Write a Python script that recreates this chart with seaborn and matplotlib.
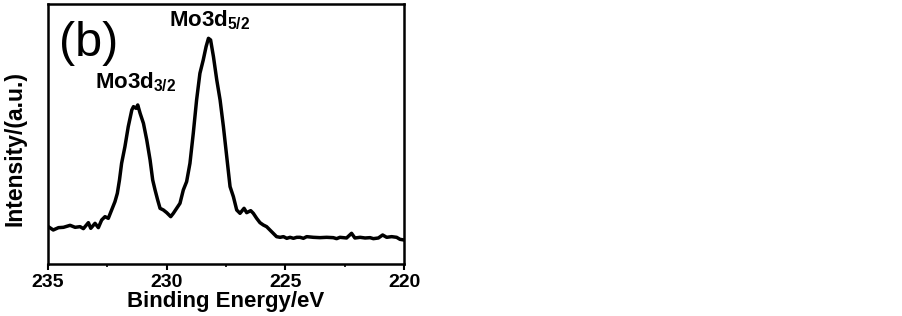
"""XPS Mo3d spectrum, panel (b)"""
import matplotlib
matplotlib.use('Agg')
import matplotlib.pyplot as plt
from matplotlib.ticker import MultipleLocator
import seaborn as sns
import pandas as pd

#binding energy (eV) and intensity (arb. units)
energy = [234.99, 234.78, 234.56, 234.35, 234.07, 233.86, 233.65, 233.51, 233.30, 233.20,
          233.02, 232.88, 232.74, 232.60, 232.46, 232.32, 232.18, 232.08, 231.99, 231.90,
          231.76, 231.62, 231.47, 231.40, 231.29, 231.22, 231.12, 230.98, 230.84, 230.70,
          230.59, 230.49, 230.38, 230.28, 230.14, 230.00, 229.83, 229.72, 229.58, 229.44,
          229.30, 229.16, 229.02, 228.88, 228.74, 228.60, 228.46, 228.34, 228.24, 228.15,
          228.03, 227.89, 227.75, 227.61, 227.47, 227.33, 227.19, 227.05, 226.91, 226.74,
          226.63, 226.46, 226.35, 226.21, 226.07, 225.93, 225.79, 225.65, 225.51, 225.37,
          225.22, 225.08, 224.94, 224.80, 224.66, 224.52, 224.38, 224.24, 224.10, 223.82,
          223.54, 223.26, 222.98, 222.84, 222.70, 222.42, 222.21, 222.07, 221.85, 221.64,
          221.43, 221.29, 221.08, 220.90, 220.73, 220.52, 220.31, 220.17, 220.00]
intensity = [112, 102, 109, 110, 116, 110, 112, 106, 124, 107,
             122, 109, 132, 142, 137, 162, 187, 212, 252, 302,
             352, 412, 462, 472, 467, 477, 452, 422, 372, 312,
             252, 222, 192, 167, 162, 154, 142, 152, 167, 182,
             222, 247, 302, 392, 492, 572, 612, 652, 677, 672,
             622, 552, 492, 412, 322, 232, 202, 162, 152, 167,
             154, 160, 152, 137, 124, 117, 112, 102, 92, 82,
             80, 82, 77, 80, 77, 80, 80, 77, 82, 80,
             79, 80, 79, 76, 80, 78, 92, 78, 80, 78,
             79, 76, 78, 87, 80, 82, 80, 74, 72]

peak_labels = [r'$\mathbf{Mo3d_{3/2}}$', r'$\mathbf{Mo3d_{5/2}}$']
peak_pos = [231.3, 228.2]

sns.set_style('white')
plt.rcParams['font.family'] = ['Liberation Sans', 'DejaVu Sans']
plt.rcParams['mathtext.fontset'] = 'custom'
plt.rcParams['mathtext.bf'] = 'Liberation Sans:bold'
plt.rcParams['mathtext.rm'] = 'Liberation Sans'
plt.rcParams['text.color'] = 'black'
plt.rcParams['axes.labelcolor'] = 'black'
plt.rcParams['xtick.color'] = 'black'

df = pd.DataFrame({'energy': energy, 'intensity': intensity})

fig = plt.figure(figsize=(9.03, 3.16), dpi=100)
ax = fig.add_axes([0.0532, 0.1646, 0.3942, 0.8228])
sns.lineplot(data=df, x='energy', y='intensity', color='black', linewidth=2.5, ax=ax)

ax.set_xlim(235, 220)
ax.set_ylim(0, 780)
ax.set_yticks([])
ax.xaxis.set_major_locator(MultipleLocator(5))
ax.xaxis.set_minor_locator(MultipleLocator(2.5))
ax.tick_params(axis='x', which='major', direction='out', length=4, width=1.5,
               labelsize=14, pad=3, bottom=True)
ax.tick_params(axis='x', which='minor', direction='out', length=2, width=1.2, bottom=True)
for label in ax.get_xticklabels():
    label.set_fontweight('bold')
for spine in ax.spines.values():
    spine.set_linewidth(1.8)
    spine.set_color('black')

ax.set_xlabel('Binding Energy/eV', fontsize=16, fontweight='bold', labelpad=0)
ax.set_ylabel('Intensity/(a.u.)', fontsize=16.5, fontweight='bold')
ax.yaxis.set_label_coords(-0.06, 0.446)

#peak labels and panel letter
ax.text(peak_pos[0], 528, peak_labels[0], fontsize=16, ha='center', va='baseline')
ax.text(peak_pos[1], 712, peak_labels[1], fontsize=16, ha='center', va='baseline')
ax.text(0.03, 0.80, '(b)', transform=ax.transAxes, fontsize=35, ha='left', va='baseline')

fig.savefig('out.png', dpi=100)
